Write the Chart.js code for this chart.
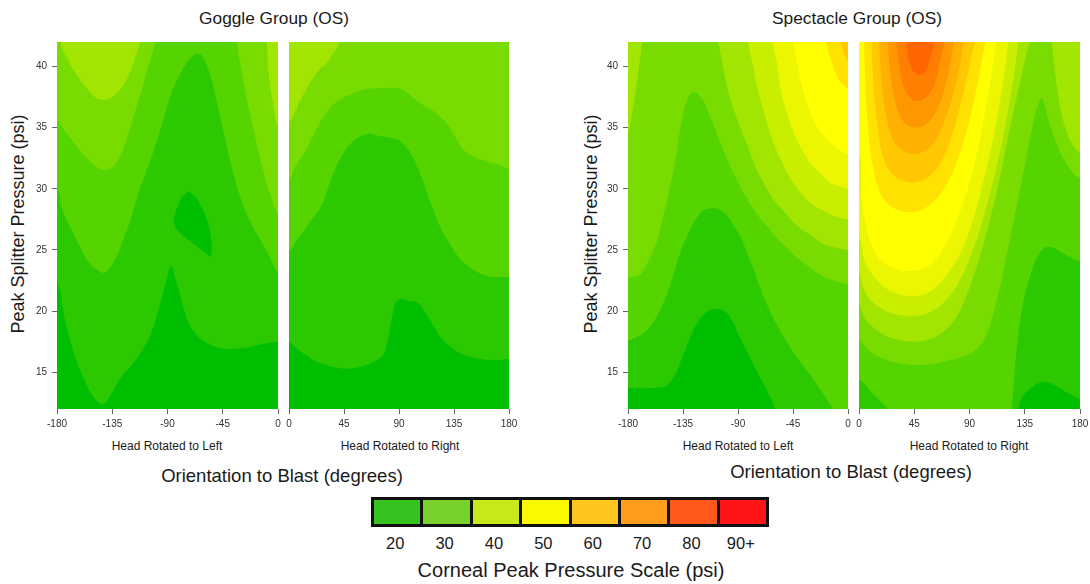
<!DOCTYPE html>
<html><head><meta charset="utf-8">
<script src="https://cdn.jsdelivr.net/npm/chart.js@4.4.1/dist/chart.umd.min.js"></script>
<style>
body{margin:0;background:#fff;width:1090px;height:584px;overflow:hidden;position:relative;font-family:"Liberation Sans",Arial,sans-serif;color:#1a1a1a}
canvas{position:absolute}
.t{position:absolute;white-space:nowrap;transform:translate(-50%,-50%)}
.v{position:absolute;white-space:nowrap;transform:translate(-50%,-50%) rotate(-90deg)}
#cbar{position:absolute;left:371px;top:497px;width:398px;height:30px;background:#111;display:flex;padding:3px;box-sizing:border-box;gap:3px}
#cbar div{flex:1}
</style></head><body>

<div class="t" style="left:274px;top:18px;font-size:17.3px">Goggle Group (OS)</div>
<div class="t" style="left:857px;top:18px;font-size:17.3px">Spectacle Group (OS)</div>
<div class="v" style="left:18px;top:224px;font-size:18px">Peak Splitter Pressure (psi)</div>
<div class="v" style="left:591px;top:224px;font-size:18px">Peak Splitter Pressure (psi)</div>
<div class="t" style="left:167px;top:446px;font-size:12px">Head Rotated to Left</div>
<div class="t" style="left:400px;top:446px;font-size:12px">Head Rotated to Right</div>
<div class="t" style="left:738px;top:446px;font-size:12px">Head Rotated to Left</div>
<div class="t" style="left:969px;top:446px;font-size:12px">Head Rotated to Right</div>
<div class="t" style="left:282px;top:476px;font-size:18.5px">Orientation to Blast (degrees)</div>
<div class="t" style="left:851px;top:472px;font-size:18.5px">Orientation to Blast (degrees)</div>
<div id="cbar"></div>
<div class="t" style="left:571px;top:570px;font-size:20px">Corneal Peak Pressure Scale (psi)</div>

<canvas id="gl" width="285" height="415" style="left:0px;top:30px"></canvas>
<canvas id="gr" width="232" height="415" style="left:285px;top:30px"></canvas>
<canvas id="sl" width="285" height="415" style="left:570px;top:30px"></canvas>
<canvas id="sr" width="234" height="415" style="left:855px;top:30px"></canvas>

<script>
// ---------- data ----------
const LEFT_X_TICKS = [-180, -135, -90, -45, 0];
const RIGHT_X_TICKS = [0, 45, 90, 135, 180];
const Y_TICKS = [15, 20, 25, 30, 35, 40];

// contour band colours, 5 psi steps starting at 20 psi
const LEVEL_COLORS = ['#00bf00','#2cc900','#55d400','#79dc00','#a2e500','#c9ee00','#ecf600','#ffff00','#ffe200','#ffc800','#ffb000','#ff9800','#ff8000','#ff6600'];

const CBAR_LABELS = ['20','30','40','50','60','70','80','90+'];
const CBAR_COLORS = ['#35c21f','#78d12b','#c5e91b','#fbf800','#ffc61d','#ff9d1f','#ff581a','#ff1515'];

// contour region outlines: [orientation deg, peak splitter pressure psi]
const BASE_LEFT = [[10,10],[-190,10],[-190,45],[10,45]];
const BASE_RIGHT = [[190,10],[-10,10],[-10,45],[190,45]];

// Goggle, head rotated left
const GL_L1 = [[-190,22.5],[-180,22.5],[-174,19.5],[-166,16.5],[-156,14],[-148,12.7],[-142,12.4],[-136,13.2],[-128,14.6],[-119,15.6],[-110,16.9],[-103,18.3],[-96,20.6],[-91,22.5],[-87,23.7],[-84,22.8],[-81,21.8],[-77,20.3],[-73,19.1],[-66,18],[-58,17.4],[-48,17],[-40,16.9],[-28,17],[-18,17.2],[-8,17.4],[0,17.5],[10,17.5],[10,45],[-190,45]];
const GL_L2 = [[-190,30],[-180,30],[-176,28.4],[-171,27.2],[-165,26],[-160,25],[-154,24],[-148,23.4],[-141,23.15],[-133,24.2],[-127,25.6],[-121,27.2],[-115,29.2],[-109,31],[-103,32.6],[-95,35.1],[-87,37.8],[-80,39.3],[-75,40.2],[-70,40.8],[-66,41.05],[-62,40.9],[-58,40.1],[-54,38.9],[-46,35.4],[-38,31.9],[-30,29.1],[-21,27],[-13,25.6],[-6,24.3],[0,23.2],[10,23],[10,45],[-190,45]];
const GL_L3A = [[-190,35.6],[-180,35.6],[-173,34.6],[-168,34],[-161,33.1],[-154.7,32.4],[-149,31.9],[-143.7,31.6],[-135.6,31.7],[-127.4,32.9],[-119.2,35.4],[-111.1,38.1],[-104.3,40.5],[-100.2,41.9],[-99.5,42.5],[-99,45],[-190,45]];
const GL_L3B = [[-34,42.5],[-33.5,41.9],[-29.4,39.4],[-21.2,35.4],[-13.1,31.9],[-4.9,29.1],[0,28],[10,27.5],[10,45],[-34,45]];
const GL_L4A = [[-177,42.5],[-176.4,41.7],[-172,40.8],[-168.2,40],[-161,38.9],[-154.7,38.1],[-149,37.5],[-143.7,37.3],[-138,37.35],[-132.9,37.7],[-127,38.3],[-122,39.2],[-118,40.2],[-115.2,41.1],[-112.5,41.9],[-112,42.5],[-112,45],[-177,45]];
const GL_L4B = [[-9.5,42.5],[-9,41.9],[-7.6,39.4],[-3.6,36.7],[0,35.1],[10,34.5],[10,45],[-9.5,45]];
const GL_L0_ISLAND = [[-73,29.8],[-79,29.2],[-83,28.2],[-85,27.2],[-80,26.4],[-70,25.6],[-62,25],[-55,24.5],[-54,25.5],[-56,26.8],[-60,28],[-66,29.2]];

// Goggle, head rotated right
const GR_L1 = [[-10,17.5],[0,17.5],[7,16.9],[13.9,16.4],[22,15.9],[30.2,15.6],[38,15.4],[46.6,15.3],[55,15.4],[62.9,15.6],[70,15.9],[76.6,16.4],[80,17.3],[82,18.3],[84.5,19.6],[86.5,20.5],[88.8,20.9],[93,21],[98.3,20.8],[102,20.8],[106.5,20.6],[110,20.1],[114.6,19.4],[120,18.5],[125.6,17.7],[132,17.1],[139.1,16.6],[147,16.3],[155.5,16.1],[164,16],[171.8,16],[180,16.1],[190,16.1],[190,45],[-10,45]];
const GR_L2 = [[-10,24.9],[0,24.9],[5,25.6],[11.7,26.5],[18,27.4],[25.3,28.4],[31,29.8],[36.2,31.2],[41,32.3],[47.1,33.3],[54,34],[60.7,34.4],[67,34.5],[74.4,34.3],[82,34.2],[90.7,33.9],[98.9,33],[104,32],[109.7,30.6],[115,29.1],[120.7,27.6],[126,26.4],[131.5,25.5],[138,24.5],[145.1,23.8],[152,23.3],[158.7,23],[166,22.8],[173,22.8],[180,22.8],[190,22.8],[190,45],[-10,45]];
const GR_L3 = [[-10,30.7],[0,30.7],[5,31.8],[13.9,33.2],[22,34.8],[30.2,36.2],[40,37.2],[52,37.8],[60,38.1],[68.4,38.2],[80,38.25],[90.1,38.2],[96,37.9],[101,37.5],[106,37.1],[111.9,36.7],[116,36.5],[120.1,36.2],[126,35.7],[131,35.1],[135,34.4],[139.1,33.7],[144,33.1],[150.1,32.7],[156,32.4],[161,32.3],[166,32.1],[171.8,32],[180,31.6],[190,31.6],[190,45],[-10,45]];
const GR_L4 = [[-10,35.5],[0,35.5],[3,35.9],[8,37],[13.9,38.1],[20,39.1],[26,39.9],[30.2,40.2],[35,40.9],[40.5,41.8],[42,42.5],[42,45],[-10,45]];

// Spectacle, head rotated left
const SL_L1 = [[-190,13.7],[-180,13.7],[-165,13.7],[-155,13.75],[-148.6,13.9],[-142,14.7],[-137.7,15.7],[-132,17.1],[-126.8,18.4],[-121,19.4],[-115.9,19.9],[-111,20.15],[-107.7,20.2],[-103,20.1],[-99.5,19.9],[-94,19.1],[-88.6,17.9],[-83,16.8],[-77.7,15.7],[-72,14.6],[-66.8,13.6],[-62,12.6],[-60,12],[-58,10.5],[10,10.5],[10,45],[-190,45]];
const SL_L2 = [[-190,17.6],[-180,17.6],[-172,17.9],[-165,18.4],[-158,19.3],[-151.4,20.6],[-146,22],[-140.4,23.8],[-135,25.4],[-129.5,26.6],[-124,27.6],[-118.6,28.2],[-111.8,28.4],[-105,28.3],[-99,27.8],[-94.1,27.1],[-88,26.1],[-83.1,24.9],[-77,23.4],[-72.2,22],[-67,20.7],[-61.4,19.5],[-55,18.3],[-47.7,17.1],[-41,16.1],[-34,15.2],[-27,14.2],[-20.5,13.3],[-16,12.6],[-12.3,12],[-10,11],[10,11],[10,45],[-190,45]];
const SL_L3 = [[-190,22.8],[-180,22.8],[-175,22.85],[-170.2,23],[-165,23.8],[-159.5,24.9],[-155,26.1],[-151.4,27.6],[-147,29.5],[-143.2,31.4],[-140,33.1],[-137.7,34.7],[-135,36],[-132.2,37.1],[-129.5,37.7],[-126.8,37.9],[-124,37.85],[-121.3,37.6],[-117,36.9],[-113.2,36],[-109,35],[-105,33.9],[-100,32.7],[-94.1,31.4],[-88.6,30.3],[-83.1,29.3],[-77.7,28.4],[-72.2,27.6],[-65,26.8],[-58.6,26],[-50,25.2],[-42.2,24.4],[-33,23.7],[-23.2,23],[-12,22.5],[0,22.2],[10,22.2],[10,45],[-190,45]];
const SL_L4A = [[-190,34.7],[-180,34.7],[-177,36],[-174,37.8],[-171,40],[-169,41.5],[-168,42.5],[-168,45],[-190,45]];
const SL_L4B = [[-107,42.5],[-106,42],[-102,39.8],[-98,38],[-93,36.3],[-88,35],[-82,33.5],[-76,31.8],[-68,30.3],[-60,29],[-51,28],[-42,27],[-32,26.3],[-22,25.6],[-11,25.2],[0,25],[10,25],[10,45],[-107,45]];
const SL_L5 = [[-83,42.5],[-82,42],[-78,40.2],[-74,38.2],[-68,36],[-62,34],[-55,32.4],[-48,31],[-39,29.7],[-30,28.8],[-20,28.2],[-12,27.8],[0,27.5],[10,27.5],[10,45],[-83,45]];
const SL_L6 = [[-63,42.5],[-62,42],[-58,40.2],[-55,38],[-50,36.2],[-44,34.5],[-37,33.1],[-30,32],[-22,31.2],[-15,30.5],[-7,30.2],[0,30],[10,30],[10,45],[-63,45]];
const SL_L7 = [[-46,42.5],[-45,42],[-41,40],[-38,38.5],[-33,36.8],[-28,35.5],[-21,34.5],[-15,33.8],[-7,33.2],[0,32.8],[10,32.8],[10,45],[-46,45]];
const SL_L8 = [[-19,42.5],[-18,42],[-15,40.8],[-12,40],[-8,39],[-4,38.5],[0,38.2],[10,38],[10,45],[-19,45]];
const SL_L9 = [[-7,42.5],[-6,42],[-3,41],[0,40.5],[10,40.3],[10,45],[-7,45]];

// Spectacle, head rotated right
const SR_L1A = [[-10,14.4],[0,14.4],[4,14.1],[8,13.6],[13,13.1],[18,12.6],[22,12.2],[24,11.8],[25,10],[-10,10]];
const SR_L1B = [[190,10],[123,10],[124.4,12],[126,14],[128,16.5],[131,19],[135,21.3],[140.6,23.3],[146,24.6],[151.5,25.2],[158,25.2],[165,24.8],[172,24.4],[180,24.1],[190,24.1]];
const SR_L0 = [[190,10],[128,10],[129.8,12],[133,13],[140,13.7],[146,14.1],[151.5,14.2],[158,14],[165,13.6],[172,13.2],[180,12.8],[190,12.8]];
const SR_L3 = [[-10,17.7],[0,17.7],[5,17.1],[10,16.6],[20,16.1],[30,15.8],[45,15.6],[60,15.7],[75,16],[88,16.4],[97,17],[103,17.9],[108,19.3],[112,20.8],[116.2,22.5],[120,24.5],[124.4,26.6],[128.5,28.6],[132.5,30.6],[136.5,32.7],[140.6,34.7],[144,36.3],[147,37.2],[149,37.4],[151,36.9],[154.2,35.7],[158,34.5],[162.4,33.3],[167,32.4],[173.3,31.4],[180,30.9],[190,30.9],[190,45],[-10,45]];
const SR_L4A = [[-10,20.5],[0,20.5],[4,19.5],[10,18.8],[20,18.1],[30,17.7],[45,17.5],[60,17.8],[72,18.6],[82,20],[92,22.5],[100,25],[108,28],[115,31],[122,34.5],[128,37.3],[134,40],[139,42],[141,42.5],[141,45],[-10,45]];
const SR_L4B = [[156,42.5],[157,42],[159,40],[161,38.5],[164,36.6],[168,35],[174,33.6],[180,33],[190,33],[190,45],[156,45]];
const SR_L5 = [[-10,23],[0,23],[4,21.8],[10,20.8],[20,20.1],[32,19.7],[45,19.6],[58,19.9],[70,20.8],[82,22.5],[94,25.3],[104,28.6],[113,32.2],[120,35.6],[125,38.5],[128.5,41],[130,42.5],[130,45],[-10,45]];
const SR_L6 = [[-10,26],[0,26],[4,24.3],[10,23.1],[20,22],[32,21.4],[45,21.2],[58,21.6],[70,22.8],[84,25],[95,28.2],[104,31.7],[111,35],[117,38.5],[121,41.5],[122,42.5],[122,45],[-10,45]];
const SR_L7 = [[-10,33],[0,33],[2,29.5],[6,26.8],[12,25],[20,24],[32,23.4],[45,23.3],[58,23.8],[70,25.3],[80,27.5],[90,30.5],[98,33.8],[104,37],[109,40],[112,42.5],[112,45],[-10,45]];
const SR_L8 = [[4,42.5],[5,39],[7,35.5],[11,32],[17,29.7],[27,28.5],[40,28.1],[52,28.3],[64,29.3],[76,31.3],[87,34.5],[96,38.3],[102,41.5],[104,42.5],[104,45],[4,45]];
const SR_L9 = [[10,42.5],[11.5,39],[14.5,35.5],[20,32.5],[29,31],[42,30.5],[54,30.8],[66,32],[76,34.5],[85,37.8],[92,41],[95,42.5],[95,45],[10,45]];
const SR_L10 = [[16,42.5],[18,39.5],[22,36],[29,33.8],[40,32.9],[52,33],[63,34.1],[72,36.2],[80,39],[84.5,41.5],[86,42.5],[86,45],[16,45]];
const SR_L11 = [[23,42.5],[25,40],[29,37.3],[36,35.5],[46,35],[56,35.4],[65,36.8],[72,39],[76.5,41.5],[78,42.5],[78,45],[23,45]];
const SR_L12 = [[30,42.5],[32,40.5],[36.5,38.3],[43,37.3],[50,37.2],[57,37.7],[63,39],[67.5,41],[70,42.5],[70,45],[30,45]];
const SR_L13 = [[38,42.5],[40,40.8],[44,39.6],[49,39.3],[54,39.6],[58,40.6],[61,42],[62,42.5],[62,45],[38,45]];

// paint order, bottom first: [level, outline]
const GL_LAYERS = [[0,BASE_LEFT],[1,GL_L1],[2,GL_L2],[3,GL_L3A],[3,GL_L3B],[4,GL_L4A],[4,GL_L4B],[0,GL_L0_ISLAND]];
const GR_LAYERS = [[0,BASE_RIGHT],[1,GR_L1],[2,GR_L2],[3,GR_L3],[4,GR_L4]];
const SL_LAYERS = [[0,BASE_LEFT],[1,SL_L1],[2,SL_L2],[3,SL_L3],[4,SL_L4A],[4,SL_L4B],[5,SL_L5],[6,SL_L6],[7,SL_L7],[8,SL_L8],[9,SL_L9]];
const SR_LAYERS = [[2,BASE_RIGHT],[1,SR_L1A],[1,SR_L1B],[0,SR_L0],[3,SR_L3],[4,SR_L4A],[4,SR_L4B],[5,SR_L5],[6,SR_L6],[7,SR_L7],[8,SR_L8],[9,SR_L9],[10,SR_L10],[11,SR_L11],[12,SR_L12],[13,SR_L13]];

// ---------- colour bar ----------
const cbar = document.getElementById('cbar');
CBAR_COLORS.forEach(c => { const d = document.createElement('div'); d.style.background = c; cbar.appendChild(d); });
const swW = (398 - 6 - 21) / 8;
CBAR_LABELS.forEach((t, i) => {
  const d = document.createElement('div');
  d.className = 't';
  d.style.cssText = `left:${371 + 3 + swW / 2 + i * (swW + 3) - 2}px;top:543px;font-size:16.5px`;
  d.textContent = t;
  document.body.appendChild(d);
});

// ---------- charts ----------
const FONT = 'Liberation Sans, Arial, sans-serif';
function toDataset([level, pts], i) {
  let p = pts.map(([x, y]) => ({x, y}));
  const mono = p.every((q, k) => k === 0 || q.x >= p[k - 1].x);
  if (mono) p = [p[p.length - 1], ...p.slice(0, -1)];
  return {data: p, backgroundColor: LEVEL_COLORS[level], borderColor: LEVEL_COLORS[level], borderWidth: 0,
          pointRadius: 0, fill: 'shape', tension: 0.35, order: -i};
}
function makePanel(id, layers, xmin, xmax, xticks, showY, pad, yw) {
  new Chart(document.getElementById(id), {
    type: 'line',
    data: {datasets: layers.map(toDataset)},
    options: {
      responsive: false, animation: false, events: [], devicePixelRatio: 1,
      layout: {padding: pad},
      plugins: {legend: {display: false}, tooltip: {enabled: false}},
      elements: {line: {capBezierPoints: false}},
      scales: {
        x: {type: 'linear', min: xmin, max: xmax,
            afterBuildTicks: s => { s.ticks = xticks.map(v => ({value: v})); },
            afterFit: s => { s.height = 36; s.paddingLeft = 0; s.paddingRight = 0; },
            grid: {drawOnChartArea: false, drawTicks: true, tickLength: 5, color: '#666'},
            border: {display: false},
            ticks: {color: '#333', font: {size: 10, family: FONT}, padding: 4, maxRotation: 0, autoSkip: false}},
        y: {type: 'linear', min: 12, max: 42, display: showY,
            afterBuildTicks: s => { s.ticks = Y_TICKS.map(v => ({value: v})); },
            afterFit: s => { if (showY) s.width = yw; s.paddingTop = 0; s.paddingBottom = 0; },
            grid: {drawOnChartArea: false, drawTicks: true, tickLength: 5, color: '#666'},
            border: {display: false},
            ticks: {color: '#333', font: {size: 10, family: FONT}, padding: 5}}
      }
    }
  });
}
makePanel('gl', GL_LAYERS, -180, 0, LEFT_X_TICKS, true, {top: 12, right: 7, left: 0, bottom: 0}, 57);
makePanel('gr', GR_LAYERS, 0, 180, RIGHT_X_TICKS, false, {top: 12, right: 8, left: 4, bottom: 0}, 0);
makePanel('sl', SL_LAYERS, -180, 0, LEFT_X_TICKS, true, {top: 12, right: 7, left: 0, bottom: 0}, 58);
makePanel('sr', SR_LAYERS, 0, 180, RIGHT_X_TICKS, false, {top: 12, right: 9, left: 4, bottom: 0}, 0);
</script>
</body></html>
